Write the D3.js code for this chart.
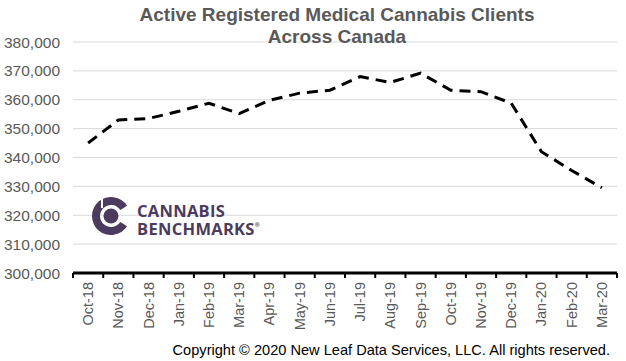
<!DOCTYPE html>
<html>
<head>
<meta charset="utf-8">
<script src="https://cdn.jsdelivr.net/npm/d3@7"></script>
<style>
	body { margin: 0; background: #fff; }
	svg { display: block; font-family: "Liberation Sans", Arial, sans-serif; }
</style>
</head>
<body>
<script>
const months = ['Oct-18', 'Nov-18', 'Dec-18', 'Jan-19', 'Feb-19', 'Mar-19', 'Apr-19', 'May-19', 'Jun-19',
	'Jul-19', 'Aug-19', 'Sep-19', 'Oct-19', 'Nov-19', 'Dec-19', 'Jan-20', 'Feb-20', 'Mar-20'];
const clients = [345000, 353000, 353500, 356000, 358800, 355200, 359800, 362300, 363300,
	368000, 366000, 369200, 363300, 362800, 358800, 342000, 335500, 329500];
const yTicks = [300000, 310000, 320000, 330000, 340000, 350000, 360000, 370000, 380000];
const titleLines = ['Active Registered Medical Cannabis Clients', 'Across Canada'];
const copyright = 'Copyright \u00a9 2020 New Leaf Data Services, LLC. All rights reserved.';

const width = 626, height = 361;
const margin = { top: 42, right: 9, bottom: 88, left: 73 };

const svg = d3.select('body').append('svg')
	.attr('width', width)
	.attr('height', height);

const x = d3.scaleBand()
	.domain(months)
	.range([margin.left, width - margin.right]);

const y = d3.scaleLinear()
	.domain([300000, 380000])
	.range([height - margin.bottom, margin.top]);

// gridlines
svg.append('g')
	.selectAll('line')
	.data(yTicks)
	.enter().append('line')
	.attr('x1', margin.left)
	.attr('x2', width - margin.right)
	.attr('y1', d => y(d))
	.attr('y2', d => y(d))
	.style('stroke', '#d9d9d9')
	.style('stroke-width', 1);

// y labels
svg.append('g')
	.selectAll('text')
	.data(yTicks)
	.enter().append('text')
	.attr('x', 60)
	.attr('y', d => y(d) + 5.5)
	.attr('text-anchor', 'end')
	.style('font-size', '15.5px')
	.style('fill', '#595959')
	.text(d => d3.format(',')(d));

// x axis
let xAxis = svg.append('g')
	.attr('transform', `translate(0,${y(300000)})`);
xAxis.append('line')
	.attr('x1', margin.left)
	.attr('x2', width - margin.right)
	.style('stroke', '#000')
	.style('stroke-width', 3);
xAxis.selectAll('line.tick')
	.data(months.concat(['end']))
	.enter().append('line')
	.attr('class', 'tick')
	.attr('x1', (d, i) => margin.left + i * x.bandwidth())
	.attr('x2', (d, i) => margin.left + i * x.bandwidth())
	.attr('y1', 0)
	.attr('y2', 5)
	.style('stroke', '#000')
	.style('stroke-width', 2);
xAxis.selectAll('text')
	.data(months)
	.enter().append('text')
	.attr('transform', d => `translate(${x(d) + x.bandwidth() / 2 + 5},9) rotate(-90)`)
	.attr('text-anchor', 'end')
	.style('font-size', '14.5px')
	.style('fill', '#595959')
	.text(d => d);

// line
let line = d3.line()
	.x((d, i) => x(months[i]) + x.bandwidth() / 2)
	.y(d => y(d));

svg.append('path')
	.datum(clients)
	.attr('d', line)
	.style('fill', 'none')
	.style('stroke', '#000')
	.style('stroke-width', 3)
	.style('stroke-dasharray', '11,7');

// title
svg.append('g')
	.selectAll('text')
	.data(titleLines)
	.enter().append('text')
	.attr('x', 337)
	.attr('y', (d, i) => 21 + i * 22)
	.attr('text-anchor', 'middle')
	.style('font-size', '19px')
	.style('font-weight', 'bold')
	.style('fill', '#595959')
	.text(d => d);

// copyright
svg.append('text')
	.attr('x', 610)
	.attr('y', 355)
	.attr('text-anchor', 'end')
	.style('font-size', '14.6px')
	.style('fill', '#000')
	.text(copyright);

// logo
const purple = '#4b3b5e';
let logo = svg.append('g').attr('transform', 'translate(111,216)');
let ring = d3.arc()
	.innerRadius(11)
	.outerRadius(19)
	.startAngle(Math.PI * 0.68)
	.endAngle(Math.PI * 2.32);
logo.append('path')
	.attr('d', ring())
	.style('fill', purple);
logo.append('circle')
	.attr('r', 7.5)
	.style('fill', purple);
logo.append('rect')
	.attr('x', -10)
	.attr('y', -20)
	.attr('width', 2)
	.attr('height', 12)
	.style('fill', '#fff');
let logoText = logo.selectAll('text')
	.data(['CANNABIS', 'BENCHMARKS'])
	.enter().append('text')
	.attr('x', 26)
	.attr('y', (d, i) => 1 + i * 18)
	.style('font-family', '"Open Sans", "DejaVu Sans", sans-serif')
	.style('font-size', '16.5px')
	.style('font-weight', 'bold')
	.style('letter-spacing', '0.3px')
	.style('fill', purple)
	.text(d => d);
logoText.filter((d, i) => i === 1)
	.append('tspan')
	.attr('dy', -8)
	.style('font-size', '6px')
	.text('\u00ae');
</script>
</body>
</html>
